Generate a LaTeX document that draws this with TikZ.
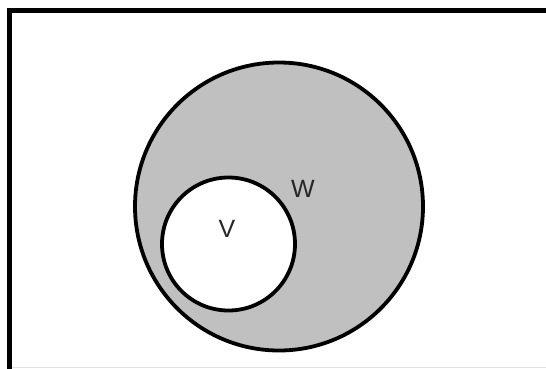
\documentclass[tikz,border=0pt]{standalone}
\usepackage{fontspec}
\setmainfont{Liberation Sans}
\definecolor{setgray}{HTML}{C0C0C0}
\tikzset{
  frame/.style={line width=5pt, line cap=rect},
  setcircle/.style={circle, draw=black, line width=3.8pt, inner sep=0pt},
  setlabel/.style={font=\fontsize{25}{25}\selectfont, text=black!85, inner sep=0pt}
}
\begin{document}
\begin{tikzpicture}[x=1pt,y=-1pt]
\useasboundingbox (0,0) rectangle (546,368);
\fill[white] (0,0) rectangle (546,368);
\coordinate (tl) at (9.5,10);
\coordinate (tr) at (546,10);
\coordinate (bl) at (9.5,368);
\draw[frame] (tr) -- (tl) -- (bl);
\coordinate (bbl) at (12,367.5);
\coordinate (bbr) at (546,367.5);
\draw[black!12, line width=1pt] (bbl) -- (bbr);
\node[setcircle, fill=setgray, minimum size=288pt] (W) at (279,206.5) {};
\node[setcircle, fill=white, minimum size=133pt] (V) at (228.5,244) {};
\node[setlabel] (Wl) at (303,189) {W};
\node[setlabel] (Vl) at (227,228.5) {V};
\end{tikzpicture}
\end{document}
